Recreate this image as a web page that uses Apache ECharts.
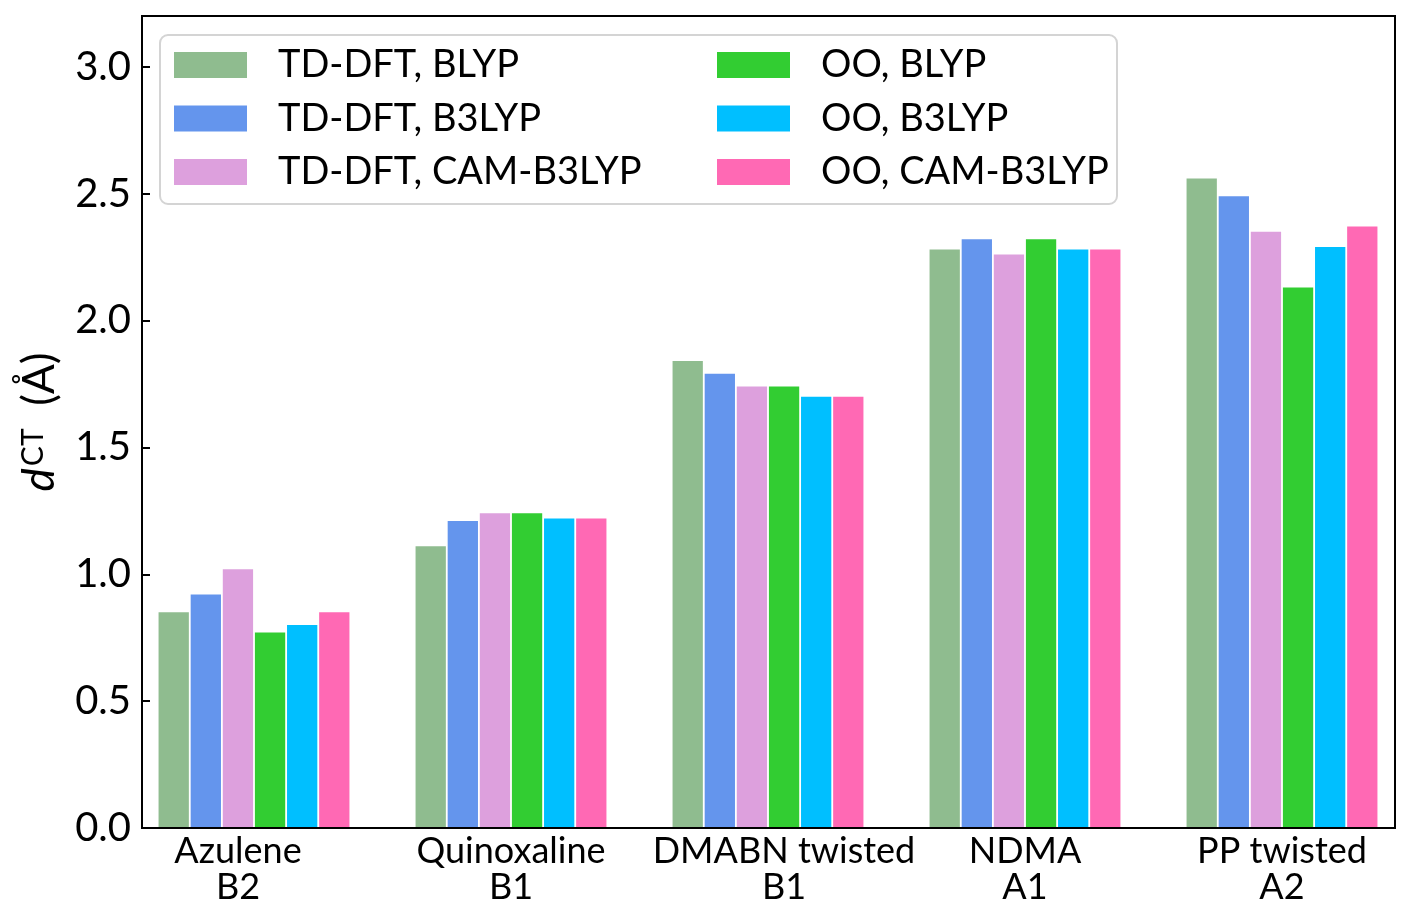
<!DOCTYPE html>
<html>
<head>
<meta charset="utf-8">
<script src="https://cdn.jsdelivr.net/npm/echarts@6/dist/echarts.min.js"></script>
<style>
html,body{margin:0;padding:0;background:#fff;}
#chart{width:1412px;height:920px;}
</style>
</head>
<body>
<div id="chart"></div>
<script>
const categories = ['Azulene\nB2', 'Quinoxaline\nB1', 'DMABN twisted\nB1', 'NDMA\nA1', 'PP twisted\nA2'];
const seriesNames = ['TD-DFT, BLYP', 'TD-DFT, B3LYP', 'TD-DFT, CAM-B3LYP', 'OO, BLYP', 'OO, B3LYP', 'OO, CAM-B3LYP'];
const tddftBLYP   = [0.85, 1.11, 1.84, 2.28, 2.56];
const tddftB3LYP  = [0.92, 1.21, 1.79, 2.32, 2.49];
const tddftCAM    = [1.02, 1.24, 1.74, 2.26, 2.35];
const ooBLYP      = [0.77, 1.24, 1.74, 2.32, 2.13];
const ooB3LYP     = [0.80, 1.22, 1.70, 2.28, 2.29];
const ooCAM       = [0.85, 1.22, 1.70, 2.28, 2.37];
const yTicks = [0, 0.5, 1.0, 1.5, 2.0, 2.5, 3.0];

const seriesData = [tddftBLYP, tddftB3LYP, tddftCAM, ooBLYP, ooB3LYP, ooCAM];
const colors = ['#8FBC8F', '#6495ED', '#DDA0DD', '#32CD32', '#00BFFF', '#FF69B4'];
const FONT = 'Lato';

const chart = echarts.init(document.getElementById('chart'));

const series = seriesNames.map((name, i) => ({
  name: name,
  type: 'bar',
  xAxisIndex: 1,
  yAxisIndex: 1,
  data: seriesData[i],
  barWidth: 30.3,
  barGap: '6%',
  itemStyle: { color: colors[i] },
  emphasis: { disabled: true }
}));

const legendCommon = {
  orient: 'vertical',
  icon: 'rect',
  padding: 0,
  itemWidth: 73,
  itemHeight: 26,
  itemGap: 15.5,
  top: 46,
  selectedMode: false,
  itemStyle: { borderWidth: 0 },
  textStyle: { fontFamily: FONT, fontSize: 38, color: '#000', lineHeight: 38, padding: [0, 0, 0, 26] }
};

const labelPad = { 0: [0, 32, 0, 0], 2: [0, 0, 0, 32] };
const rich = {};
for (let i = 0; i < categories.length; i++) {
  rich['s' + i] = { fontFamily: FONT, fontSize: 36, color: '#000', lineHeight: 36, padding: labelPad[i] || 0 };
}

const option = {
  animation: false,
  backgroundColor: '#fff',
  textStyle: { fontFamily: FONT },
  grid: [
    { left: 142, right: 17, top: 16, bottom: 92, show: true, borderColor: '#000', borderWidth: 2, backgroundColor: 'transparent' },
    { left: 125.5, width: 1285, top: 16, bottom: 92, show: false }
  ],
  xAxis: [
    { gridIndex: 0, type: 'value', min: 0, max: 1, z: 10,
      axisLine: { show: true, onZero: false, lineStyle: { color: '#000', width: 2 } },
      axisTick: { show: false }, axisLabel: { show: false }, splitLine: { show: false } },
    { gridIndex: 1, type: 'category', data: categories, z: 10,
      axisLine: { show: false }, axisTick: { show: false }, splitLine: { show: false },
      axisLabel: {
        margin: 5,
        interval: 0,
        formatter: function (value, idx) {
          return value.split('\n').map(l => '{s' + idx + '|' + l + '}').join('\n');
        },
        rich: rich
      } }
  ],
  yAxis: [
    { gridIndex: 0, type: 'value', min: 0, max: 3.2, z: 10,
      name: '{i|d}{sup|CT}{n|  (Å)}',
      nameLocation: 'middle',
      nameGap: 80,
      nameRotate: 90,
      nameTextStyle: {
        rich: {
          i: { fontFamily: FONT, fontStyle: 'italic', fontSize: 44, color: '#000', verticalAlign: 'bottom' },
          sup: { fontFamily: FONT, fontSize: 30, color: '#000', verticalAlign: 'top', padding: [0, 0, 0, 2] },
          n: { fontFamily: FONT, fontSize: 44, color: '#000', verticalAlign: 'bottom' }
        }
      },
      axisLine: { show: true, lineStyle: { color: '#000', width: 2 } },
      axisTick: { show: true, inside: true, length: 8, lineStyle: { color: '#000', width: 2 }, customValues: yTicks },
      axisLabel: { fontFamily: FONT, fontSize: 40, color: '#000', margin: 11, customValues: yTicks,
        formatter: v => v.toFixed(1) },
      splitLine: { show: false } },
    { gridIndex: 1, type: 'value', min: 0, max: 3.2, show: false }
  ],
  legend: [
    Object.assign({}, legendCommon, { left: 174, data: seriesNames.slice(0, 3) }),
    Object.assign({}, legendCommon, { left: 717, data: seriesNames.slice(3, 6) })
  ],
  graphic: [
    { type: 'rect', z: 3, shape: { x: 160, y: 35, width: 957, height: 169, r: 8 },
      style: { fill: 'rgba(255,255,255,0.8)', stroke: '#d4d4d4', lineWidth: 2 } }
  ],
  series: series
};

chart.setOption(option);
</script>
</body>
</html>
